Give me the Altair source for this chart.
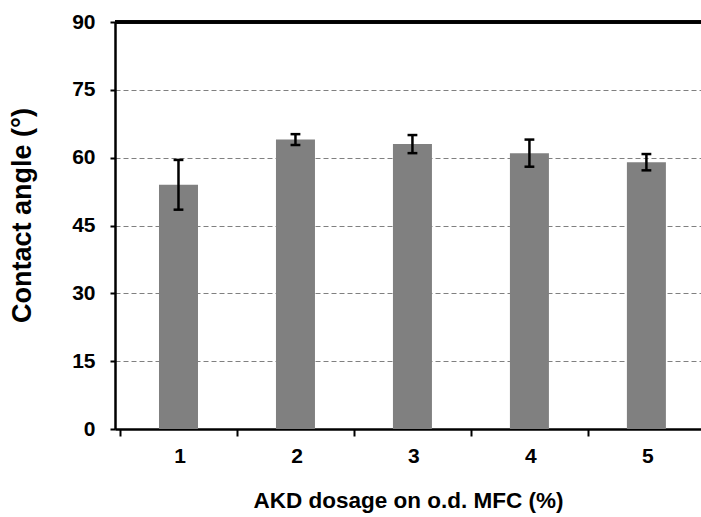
import altair as alt
import pandas as pd

categories = [1, 2, 3, 4, 5]
means = [54.0, 64.0, 63.0, 61.0, 59.0]
errors = [5.5, 1.2, 2.0, 3.0, 1.8]
y_ticks = [0, 15, 30, 45, 60, 75, 90]
x_ticks = [0.5, 1.5, 2.5, 3.5, 4.5]

df = pd.DataFrame({"cat": categories, "mean": means, "err": errors})

FONT = "Liberation Sans"
x_scale = alt.Scale(domain=[0.5, 5.424], nice=False, zero=False)
y_scale = alt.Scale(domain=[0, 90], nice=False)

x_axis = alt.Axis(
    values=x_ticks,
    labelExpr="format(datum.value + 0.5, 'd')",
    labelOffset=59.5,
    labelOverlap=False,
    labelBound=False,
    labelFlush=False,
    grid=False,
    domainColor="black",
    domainWidth=2.5,
    tickColor="black",
    tickWidth=2,
    tickSize=7,
    labelPadding=9,
    labelFont=FONT,
    labelFontSize=21,
    labelFontWeight="bold",
    labelColor="black",
    titleFont=FONT,
    titleFontSize=22.5,
    titleFontWeight="bold",
    titleColor="black",
    titlePadding=23,
)

y_axis = alt.Axis(
    values=y_ticks,
    grid=True,
    gridDash=[5, 3],
    gridColor="#808080",
    gridWidth=1,
    domainColor="black",
    domainWidth=2.5,
    tickColor="black",
    tickWidth=2,
    tickSize=5,
    labelPadding=15,
    labelFont=FONT,
    labelFontSize=21,
    labelFontWeight="bold",
    labelColor="black",
    titleFont=FONT,
    titleFontSize=27,
    titleFontWeight="bold",
    titleColor="black",
    titlePadding=35,
    titleY=193,
)

base = alt.Chart(df).transform_calculate(
    lo="datum.mean - datum.err",
    hi="datum.mean + datum.err",
    cl="datum.cat - 0.042",
    cr="datum.cat + 0.042",
)

bars = base.mark_bar(size=39, color="#808080").encode(
    x=alt.X("cat:Q", scale=x_scale, axis=x_axis, title="AKD dosage on o.d. MFC (%)"),
    y=alt.Y("mean:Q", scale=y_scale, axis=y_axis, title="Contact angle (°)"),
)

err = base.mark_rule(strokeWidth=2.5, color="black").encode(
    x="cat:Q", y="lo:Q", y2="hi:Q"
)
cap_hi = base.mark_rule(strokeWidth=2.5, color="black").encode(
    x="cl:Q", x2="cr:Q", y="hi:Q"
)
cap_lo = base.mark_rule(strokeWidth=2.5, color="black").encode(
    x="cl:Q", x2="cr:Q", y="lo:Q"
)

top_line = alt.Chart(df).mark_rule(strokeWidth=3, color="black").encode(
    y=alt.Y(datum=90), x=alt.value(0), x2=alt.value(586)
)

chart = (
    alt.layer(bars, err, cap_hi, cap_lo, top_line)
    .properties(
        width=586,
        height=407,
        autosize=alt.AutoSizeParams(type="none"),
        padding={"left": 115, "top": 22, "right": 0, "bottom": 88},
        background="white",
    )
    .configure_view(stroke=None)
)

chart.save("out.html", embed_options={"renderer": "svg", "actions": False})
